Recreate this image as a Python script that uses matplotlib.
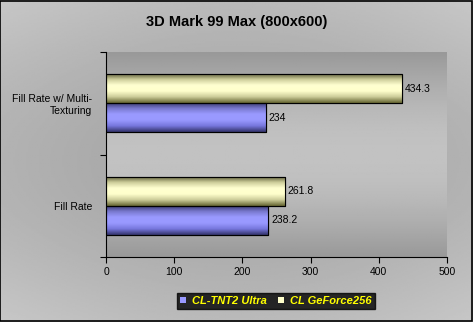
import numpy as np
import matplotlib
matplotlib.use("Agg")
import matplotlib.pyplot as plt
from matplotlib.colors import LinearSegmentedColormap

categories = ["Fill Rate", "Fill Rate w/ Multi-\nTexturing"]
tnt2 = [238.2, 234]
geforce = [261.8, 434.3]
series_names = ["CL-TNT2 Ultra", "CL GeForce256"]
xticks = [0, 100, 200, 300, 400, 500]

plt.rcParams['font.family'] = ['Liberation Sans', 'DejaVu Sans']

fig = plt.figure(figsize=(4.73, 3.22), dpi=100)

# figure background gradient
bg = fig.add_axes([0, 0, 1, 1], zorder=-10)
bg.axis('off')
gy = np.linspace(0, 1, 200)[:, None]
gx = np.linspace(0, 1, 300)[None, :]
vert = 0.78 - 0.08 * np.sin(np.pi * gy)
horiz = -0.05 * np.sin(np.pi * gx)
val = np.clip(vert + horiz, 0, 1)
bg.imshow(val, cmap='gray', vmin=0, vmax=1, aspect='auto', extent=[0, 1, 0, 1])
bg.set_xlim(0, 1); bg.set_ylim(0, 1)
bg.add_patch(plt.Rectangle((0.001, 0.002), 0.997, 0.995, fill=False, ec='black', lw=1.2,
                           transform=bg.transAxes))

W, H = 473, 322
left, right, top, bottom = 106, 447, 52, 257
ax = fig.add_axes([left / W, 1 - bottom / H, (right - left) / W, (bottom - top) / H])

# plot area gradient (dark top/bottom, lighter middle)
py = np.linspace(0, 1, 200)[:, None]
pv = 0.60 + 0.16 * np.sin(np.pi * py) * np.ones((1, 10))
ax.imshow(pv, cmap='gray', vmin=0, vmax=1, aspect='auto', extent=[0, 500, -0.5, 1.5],
          zorder=0)

y = np.arange(len(categories))
h = 0.285
b1 = ax.barh(y - h / 2, tnt2, height=h, color='#9999ff', edgecolor='black', lw=0.8, zorder=2)
b2 = ax.barh(y + h / 2, geforce, height=h, color='#ffffcc', edgecolor='black', lw=0.8, zorder=2)

blue_cmap = LinearSegmentedColormap.from_list('b', ['#33336a', '#7777dd', '#9999ff', '#9a9aff', '#7777cc', '#333366'])
yel_cmap = LinearSegmentedColormap.from_list('y', ['#666633', '#cccc99', '#ffffcc', '#ffffd0', '#cccc99', '#555533'])
grad = np.linspace(0, 1, 64)[:, None]
for bars, cm in ((b1, blue_cmap), (b2, yel_cmap)):
    for r in bars:
        x0, y0 = r.get_x(), r.get_y()
        w, hh = r.get_width(), r.get_height()
        im = ax.imshow(grad, cmap=cm, aspect='auto', extent=[x0, x0 + w, y0, y0 + hh],
                       zorder=2.5, origin='lower')
        im.set_clip_path(r)
        ax.add_patch(plt.Rectangle((x0, y0), w, hh, fill=False, ec='black', lw=0.8, zorder=3))

for bars, vals in ((b1, tnt2), (b2, geforce)):
    for r, v in zip(bars, vals):
        ax.text(v + 4, r.get_y() + r.get_height() / 2, f"{v:g}", va='center', ha='left',
                fontsize=7.5, color='black', zorder=4)

ax.set_xlim(0, 500)
ax.set_ylim(-0.5, 1.5)
ax.set_xticks(xticks)
ax.set_xticklabels([str(t) for t in xticks], fontsize=7.5)
ax.set_yticks(y)
ax.set_yticklabels(categories, fontsize=7.5)
ax.set_yticks([-0.5, 0.5, 1.5], minor=True)
ax.tick_params(axis='y', which='major', length=0, pad=10)
ax.tick_params(axis='y', which='minor', length=4, width=0.8)
ax.tick_params(axis='x', length=4, width=0.8, pad=3)
for lbl in ax.get_yticklabels():
    lbl.set_multialignment('right')
for s in ['top', 'right']:
    ax.spines[s].set_visible(False)
ax.spines['left'].set_linewidth(0.8)
ax.spines['bottom'].set_linewidth(0.8)

fig.text(0.5, 1 - 22 / H, "3D Mark 99 Max (800x600)", ha='center', va='center',
         fontsize=10.5, fontweight='bold')

handles = [plt.Rectangle((0, 0), 1, 1, fc='#9999ff', ec='none'),
           plt.Rectangle((0, 0), 1, 1, fc='#ffffcc', ec='none')]
leg = fig.legend(handles, series_names, loc='center', bbox_to_anchor=(276 / W, 1 - 301 / H),
                 ncol=2, frameon=True, fontsize=8, handlelength=0.5, handleheight=0.5,
                 handletextpad=0.6, columnspacing=1.0, borderpad=0.3, fancybox=False)
leg.get_frame().set_facecolor('black')
leg.get_frame().set_edgecolor('black')
for t in leg.get_texts():
    t.set_color('yellow')
    t.set_fontweight('bold')
    t.set_fontstyle('italic')

fig.savefig("out.png", dpi=100)
